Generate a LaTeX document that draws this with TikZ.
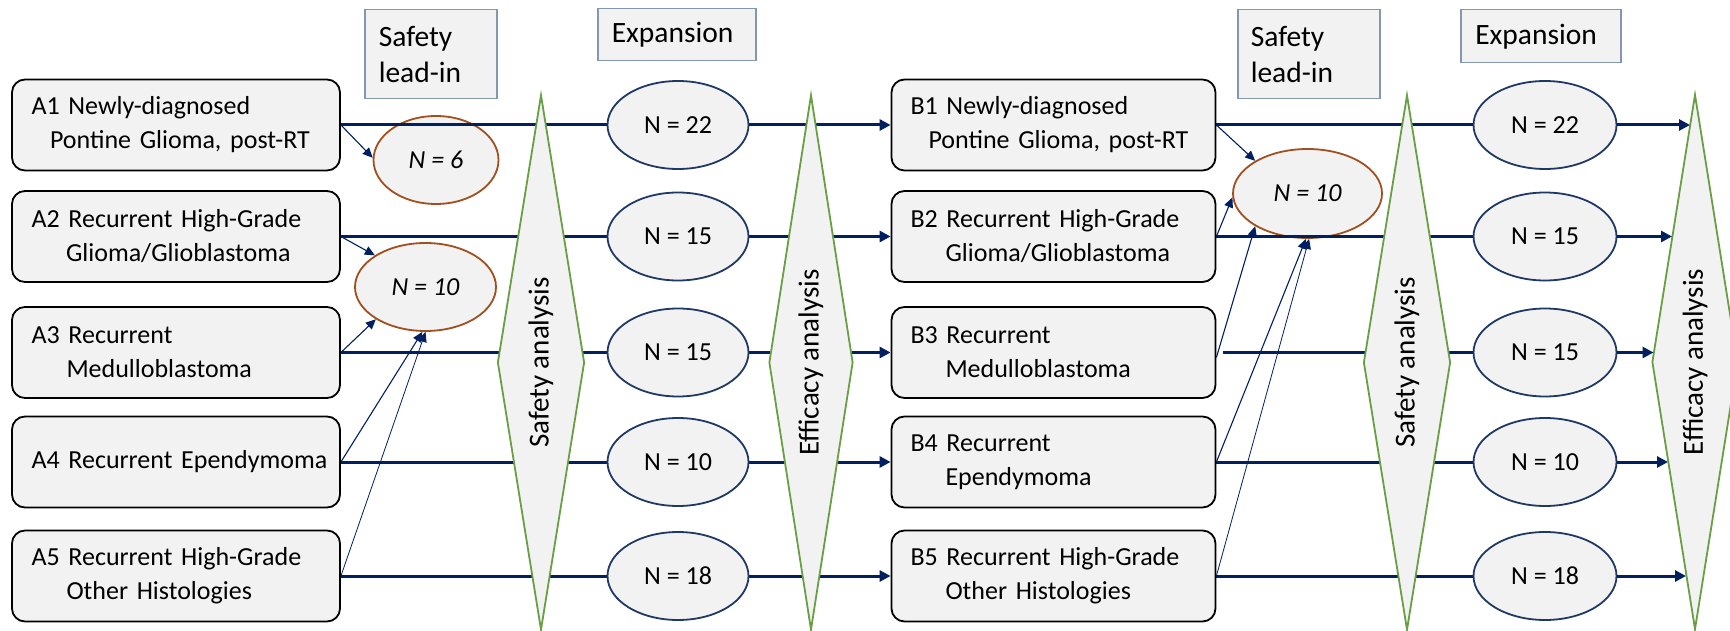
\documentclass[tikz,border=0pt]{standalone}
\usepackage{fontspec}
\setmainfont{Carlito}
\usetikzlibrary{shapes.geometric,arrows.meta,calc}
\pgfdeclarelayer{bg}\pgfdeclarelayer{lines}\pgfdeclarelayer{fg}
\pgfsetlayers{bg,lines,main,fg}
\definecolor{navy}{HTML}{002060}
\definecolor{ellblue}{HTML}{1F3864}
\definecolor{ellorange}{HTML}{A0501E}
\definecolor{dgreen}{HTML}{6A9E44}
\definecolor{hdrborder}{HTML}{8496B0}
\definecolor{lgray}{HTML}{F2F2F2}
\tikzset{
 rbox/.style={draw=black, line width=1.8pt, fill=lgray, rounded corners=13pt,
   minimum height=91pt, text width=289pt, inner xsep=19.5pt, inner ysep=4pt, align=left,
   font=\fontsize{26pt}{34pt}\selectfont},
 bwide/.style={text width=286pt, inner xsep=19pt},
 hdr/.style={draw=hdrborder, line width=1.5pt, fill=lgray, inner xsep=14pt, inner ysep=4pt,
   align=left, anchor=north west, font=\fontsize{29.5pt}{36pt}\selectfont},
 bell/.style={ellipse, draw=ellblue, line width=1.8pt, fill=lgray, minimum width=141pt,
   minimum height=88pt, inner sep=0pt, font=\fontsize{26pt}{32pt}\selectfont},
 oell/.style={ellipse, draw=ellorange, line width=1.8pt, fill=lgray, inner sep=0pt,
   minimum height=88pt, font=\fontsize{26pt}{32pt}\selectfont\itshape},
 diam/.style={diamond, draw=dgreen, line width=1.8pt, fill=lgray, rotate=90,
   minimum width=535pt, shape aspect=6.2, inner sep=0pt,
   font=\fontsize{29pt}{35pt}\selectfont},
 row/.style={draw=navy, line width=3pt},
 rowarr/.style={draw=navy, line width=3pt, -{Triangle[length=11pt,width=11pt]}},
 thinarr/.style={draw=navy, line width=1.1pt, -{Triangle[length=10pt,width=9pt]}},
}
\begin{document}
\begin{tikzpicture}[x=1pt,y=-1pt]
\useasboundingbox (0,0) rectangle (1730,631);
\clip (0,0) rectangle (1730,631);

% header boxes
\node[hdr, text width=104pt, minimum height=89pt] (hs1) at (364,9) {Safety\\lead-in};
\node[hdr, text width=130pt, minimum height=52pt] (he1) at (597,8) {Expansion};
\node[hdr, text width=116pt, inner xsep=13pt, minimum height=89pt] (hs2) at (1237,9) {Safety\\lead-in};
\node[hdr, text width=131pt, inner xsep=14.5pt, minimum height=53pt] (he2) at (1460,9) {Expansion};

% A boxes
\node[rbox] (A1) at (176,125) {A1 Newly-diagnosed\\\hspace*{18.5pt}Pontine Glioma, post-RT};
\node[rbox] (A2) at (176,236.5) {A2 Recurrent High-Grade\\\hspace*{34.5pt}Glioma/Glioblastoma};
\node[rbox] (A3) at (176,352.5) {A3 Recurrent\\\hspace*{35pt}Medulloblastoma};
\node[rbox] (A4) at (176,462) {\mbox{A4 Recurrent Ependymoma}};
\node[rbox] (A5) at (176,576) {A5 Recurrent High-Grade\\\hspace*{35pt}Other Histologies};

% B boxes
\node[rbox,bwide] (B1) at (1053.5,125) {B1 Newly-diagnosed\\\hspace*{18pt}Pontine Glioma, post-RT};
\node[rbox,bwide] (B2) at (1053.5,236.5) {B2 Recurrent High-Grade\\\hspace*{35pt}Glioma/Glioblastoma};
\node[rbox,bwide] (B3) at (1053.5,352.5) {B3 Recurrent\\\hspace*{35pt}Medulloblastoma};
\node[rbox,bwide] (B4) at (1053.5,462) {B4 Recurrent\\\hspace*{35pt}Ependymoma};
\node[rbox,bwide] (B5) at (1053.5,576) {B5 Recurrent High-Grade\\\hspace*{35pt}Other Histologies};

% expansion ellipses
\node[bell] (e1) at (678,125) {N = 22};
\node[bell] (e2) at (678,236.5) {N = 15};
\node[bell] (e3) at (678,352.5) {N = 15};
\node[bell] (e4) at (678,462) {N = 10};
\node[bell] (e5) at (678,576) {N = 18};
\node[bell, minimum width=143pt] (f1) at (1545,125) {N = 22};
\node[bell, minimum width=143pt] (f2) at (1545,236.5) {N = 15};
\node[bell, minimum width=143pt] (f3) at (1545,352.5) {N = 15};
\node[bell, minimum width=143pt] (f4) at (1545,462) {N = 10};
\node[bell, minimum width=143pt] (f5) at (1545,576) {N = 18};

% analysis diamonds
\node[diam, minimum height=87pt] (sa1) at (541,362.5) {Safety analysis};
\node[diam, minimum height=84pt] (ea1) at (811,362.5) {Efficacy analysis};
\node[diam, minimum height=87pt] (sa2) at (1407,362.5) {Safety analysis};
\node[diam, minimum height=86pt] (ea2) at (1695,362) {Efficacy analysis};

% safety lead-in ellipses
\begin{pgfonlayer}{bg}
\node[oell, minimum width=125pt] (o6) at (436,160) {N = 6};
\node[oell, minimum width=141pt] (o10) at (425.5,287) {N = 10};
\node[oell, minimum width=149pt, minimum height=89pt] (o10r) at (1307.5,193.5) {N = 10};
\end{pgfonlayer}

\begin{pgfonlayer}{lines}
% A rows to expansion
\foreach \i in {1,...,5}{
  \draw[row] (A\i.east) -- (e\i.west);
  \draw[rowarr] (e\i.east) -- (B\i.west);
}
\draw[row] (B1.east) -- (f1.west);
\draw[row] (B2.east) -- (f2.west);
\draw[row] ([xshift=7pt]B3.east) -- (f3.west);
\draw[row] (B4.east) -- (f4.west);
\draw[row] (B5.east) -- (f5.west);
% thin arrows to safety lead-in
\draw[thinarr] (A1.east) -- (o6.178);
\draw[thinarr] (A2.east) -- (o10.148);
\draw[thinarr] (A3.east) -- (o10.213);
\draw[thinarr] (A4.east) -- (o10.266);
\draw[thinarr, line width=0.8pt] (A5.east) -- (o10.270);
\draw[thinarr] (B1.east) -- (o10r.148);
\draw[thinarr] (B2.east) -- (o10r.183);
\draw[thinarr] ([yshift=-5pt]B3.east) -- (o10r.212);
\draw[thinarr] (B4.east) -- (o10r.268);
\draw[thinarr, line width=0.8pt] (B5.east) -- (o10r.272);
\end{pgfonlayer}

\begin{pgfonlayer}{fg}
\coordinate (t1) at (1690,125);
\coordinate (t2) at (1672,236.5);
\coordinate (t3) at (1653.5,352.5);
\coordinate (t4) at (1668,462);
\coordinate (t5) at (1686,576);
\foreach \i in {1,...,5}{
  \draw[rowarr] (f\i.east) -- (t\i);
}
\end{pgfonlayer}
\end{tikzpicture}
\end{document}
